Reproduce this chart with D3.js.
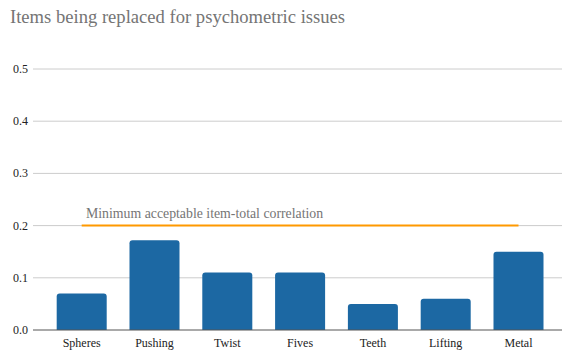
<!DOCTYPE html>
<html>
<head>
<meta charset="utf-8">
<script src="https://cdn.jsdelivr.net/npm/d3@7"></script>
<style>
  body { margin: 0; background: #fff; }
  text { font-family: "Liberation Serif", "Times New Roman", serif; }
</style>
</head>
<body>
<script>
const w = 562;
const h = 350;

const items = ["Spheres", "Pushing", "Twist", "Fives", "Teeth", "Lifting", "Metal"];
const correlations = [0.07, 0.172, 0.11, 0.11, 0.05, 0.06, 0.15];
const yTicks = [0, 0.1, 0.2, 0.3, 0.4, 0.5];
const threshold = 0.2;
const thresholdLabel = "Minimum acceptable item-total correlation";

const svg = d3.select("body").append("svg").attr("width", w).attr("height", h);

// scales
const xScale = d3.scaleBand()
  .domain(items)
  .range([45.3, 554.9])
  .paddingInner(0.313)
  .paddingOuter(0.1565);

const yScale = d3.scaleLinear().domain([0, 0.5]).range([330, 69]);

// title
svg.append("text")
  .attr("x", 10)
  .attr("y", 23)
  .style("font-size", "18.6px")
  .style("fill", "#757575")
  .text("Items being replaced for psychometric issues");

// gridlines
svg.selectAll("line.grid")
  .data(yTicks.filter((d) => d > 0))
  .enter()
  .append("line")
  .attr("class", "grid")
  .attr("x1", 33)
  .attr("x2", 562)
  .attr("y1", (d) => yScale(d))
  .attr("y2", (d) => yScale(d))
  .style("stroke", "#cccccc")
  .style("stroke-width", 1);

// y tick labels
svg.selectAll("text.ytick")
  .data(yTicks)
  .enter()
  .append("text")
  .attr("class", "ytick")
  .attr("x", 28)
  .attr("y", (d) => yScale(d) + 4)
  .attr("text-anchor", "end")
  .style("font-size", "12px")
  .style("fill", "#222")
  .text((d) => d3.format(".1f")(d));

// bars with rounded tops
const r = 3;
svg.selectAll("path.bar")
  .data(items)
  .enter()
  .append("path")
  .attr("class", "bar")
  .attr("d", (d, i) => {
    const x0 = xScale(d);
    const bw = xScale.bandwidth();
    const y0 = yScale(correlations[i]);
    const yb = yScale(0);
    return "M" + x0 + "," + yb +
      "V" + (y0 + r) +
      "Q" + x0 + "," + y0 + " " + (x0 + r) + "," + y0 +
      "H" + (x0 + bw - r) +
      "Q" + (x0 + bw) + "," + y0 + " " + (x0 + bw) + "," + (y0 + r) +
      "V" + yb + "Z";
  })
  .style("fill", "#1c68a3");

// baseline
svg.append("line")
  .attr("x1", 33)
  .attr("x2", 562)
  .attr("y1", yScale(0))
  .attr("y2", yScale(0))
  .style("stroke", "#555")
  .style("stroke-width", 1);

// x labels
svg.selectAll("text.xlabel")
  .data(items)
  .enter()
  .append("text")
  .attr("class", "xlabel")
  .attr("x", (d) => xScale(d) + xScale.bandwidth() / 2)
  .attr("y", 347)
  .attr("text-anchor", "middle")
  .style("font-size", "12px")
  .style("fill", "#222")
  .text((d) => d);

// threshold line
const first = items[0];
const last = items[items.length - 1];
svg.append("line")
  .attr("x1", xScale(first) + xScale.bandwidth() / 2)
  .attr("x2", xScale(last) + xScale.bandwidth() / 2)
  .attr("y1", yScale(threshold))
  .attr("y2", yScale(threshold))
  .style("stroke", "#ff9900")
  .style("stroke-width", 2);

svg.append("text")
  .attr("x", 86)
  .attr("y", yScale(threshold) - 8)
  .style("font-size", "13.8px")
  .style("fill", "#757575")
  .text(thresholdLabel);
</script>
</body>
</html>
